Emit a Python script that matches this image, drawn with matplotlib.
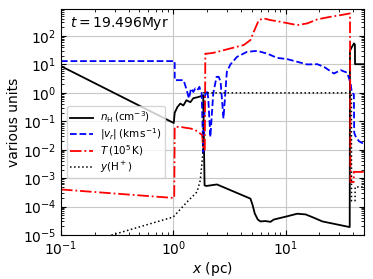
import matplotlib
matplotlib.use("Agg")
import matplotlib.pyplot as plt
import numpy as np

# ---- data ----
nH_x = [0.1, 1.01, 1.03, 1.09, 1.155, 1.23, 1.31, 1.42, 1.51, 1.64, 1.74, 1.85, 1.90,
        1.97, 2.1, 2.45, 4.87, 5.1, 5.32, 5.66, 5.98, 6.63, 7.34, 7.86, 10.35, 12.7,
        15.1, 18.0, 21.3, 37.3, 37.5, 38.6, 40.7, 41.5, 41.6, 50.0]
nH_y = [8.7, 0.087, 0.2, 0.32, 0.42, 0.36, 0.55, 0.47, 0.65, 0.7, 0.75, 0.83, 5.6e-4,
        5.3e-4, 5.5e-4, 6.0e-4, 1.9e-4, 1.1e-4, 5.7e-5, 3.5e-5, 3.0e-5, 3.1e-5, 2.9e-5,
        3.5e-5, 4.55e-5, 5.6e-5, 5.3e-5, 4.0e-5, 3.0e-5, 1.9e-5, 30.0, 38.0, 55.0, 50.0,
        10.2, 10.2]

vr_x = [0.1, 1.03, 1.03, 1.236, 1.29, 1.33, 1.38, 1.44, 1.51, 1.57, 1.64, 1.71, 1.74,
        1.79, 1.85, 1.92, 2.0, 2.05, 2.14, 2.27, 2.43, 2.54, 2.64, 2.8, 3.0, 3.23, 3.7,
        4.55, 5.59, 6.87, 8.43, 10.35, 12.7, 15.6, 19.2, 22.0, 27.0, 31.0, 35.5, 38.0,
        39.0, 40.6, 40.9, 42.0, 45.0, 48.4, 50.0]
vr_y = [13.1, 13.1, 2.8, 2.8, 1.63, 1.08, 0.64, 1.43, 1.08, 1.43, 1.24, 1.63, 1.24,
        1.0, 0.008, 0.83, 1.24, 0.64, 0.028, 0.95, 3.66, 3.66, 2.44, 0.126, 5.5, 10.0,
        18.5, 27.8, 30.0, 24.0, 17.0, 15.4, 12.4, 10.0, 10.2, 8.2, 4.8, 6.3, 5.1, 2.1,
        1.0, 0.9, 0.04, 0.03, 0.02, 0.017, 0.016]

T_x = [0.1, 1.02, 1.03, 1.155, 1.29, 1.42, 1.57, 1.74, 1.81, 1.85, 1.91, 1.93, 2.0,
       2.28, 3.23, 4.24, 4.87, 5.21, 5.78, 6.4, 7.34, 9.02, 12.7, 15.6, 19.2, 25.2,
       31.0, 37.5, 37.9, 40.5, 40.6, 50.0]
T_y = [4.0e-4, 2.0e-4, 0.0636, 0.0636, 0.059, 0.056, 0.049, 0.037, 0.0325, 0.01, 0.01,
       24.0, 24.0, 25.6, 36.5, 48.0, 72.0, 140.0, 363.0, 416.0, 363.0, 316.0, 242.0,
       277.0, 385.0, 475.0, 543.0, 623.0, 7.3e-4, 7.3e-4, 1.66e-3, 1.66e-3]

yH_x = [0.1, 0.284, 1.0, 1.325, 1.63, 1.74, 1.80, 1.84, 1.86, 38.6, 38.7, 41.6, 41.7, 50.0]
yH_y = [2.9e-6, 1.0e-5, 4.3e-5, 1.45e-4, 3.3e-4, 8.4e-4, 3.3e-3, 8.3e-3, 1.0, 1.0,
        1.6e-4, 1.6e-4, 4.9e-4, 4.9e-4]

labels = [r'$n_{\rm H}\,({\rm cm^{-3}})$', r'$|v_r|\,({\rm km\,s^{-1}})$',
          r'$T\,(10^5\,{\rm K})$', r'$y({\rm H^+})$']
time_label = r'$t=19.496$Myr'

fig = plt.figure(figsize=(3.73, 2.79), dpi=100)
ax = fig.add_axes([61/373, 1-235/279, (364-61)/373, (235-9)/279])

ax.plot(nH_x, nH_y, color='black', lw=1.3, ls='-', label=labels[0])
ax.plot(vr_x, vr_y, color='blue', lw=1.3, ls='--', label=labels[1])
ax.plot(T_x, T_y, color='red', lw=1.3, ls='-.', label=labels[2])
ax.plot(yH_x, yH_y, color='black', lw=1.1, ls=':', label=labels[3])

ax.set_xscale('log')
ax.set_yscale('log')
ax.set_xlim(0.1, 50)
ax.set_ylim(1e-5, 10**2.95)
ax.grid(True, which='major', color='#c8c8c8', lw=0.8)
ax.tick_params(which='both', direction='in', top=True, right=True, labelsize=10)
ax.set_xlabel(r'$x$ (pc)', fontsize=10, labelpad=1)
ax.set_ylabel('various units', fontsize=10, labelpad=1)
ax.text(0.03, 0.935, time_label, transform=ax.transAxes, fontsize=10, va='center', ha='left')
ax.legend(loc='lower left', bbox_to_anchor=(0.019, 0.251), borderaxespad=0, fontsize=7.5,
          handlelength=2.2, labelspacing=0.12, borderpad=0.35, handletextpad=0.6,
          framealpha=0.8)

fig.savefig('out.png', dpi=100)
